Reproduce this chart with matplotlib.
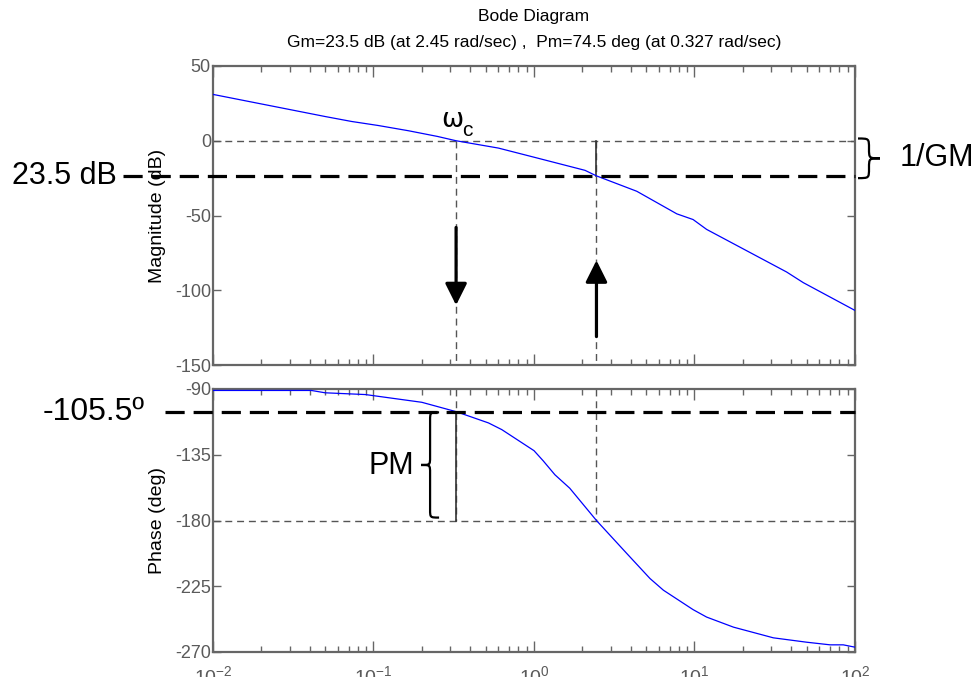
import matplotlib
matplotlib.use("Agg")
import matplotlib.pyplot as plt
import numpy as np
from matplotlib import font_manager
from matplotlib.path import Path
from matplotlib.patches import PathPatch
from matplotlib.ticker import LogLocator, NullFormatter, FixedLocator

# values
freq_mag = [0.01, 0.05, 0.073, 0.107, 0.165, 0.25, 0.327, 0.6, 1.0, 2.08, 2.45,
            4.37, 7.76, 9.8, 11.9, 37.5, 47.6, 100.0]
mag_db = [31.0, 16.2, 12.9, 10.2, 6.7, 2.9, 0.0, -4.9, -11.0, -19.8, -23.5,
          -33.8, -48.9, -52.7, -59.3, -87.8, -94.9, -113.5]

freq_ph = [0.01, 0.041, 0.05, 0.089, 0.2, 0.327, 0.52, 0.63, 1.0, 1.14, 1.35,
           1.67, 2.45, 3.78, 5.28, 6.4, 9.8, 11.9, 17.5, 31.0, 50.0, 70.0, 84.5, 100.0]
phase_deg = [-91.0, -91.0, -92.6, -93.8, -99.1, -105.5, -113.2, -117.8, -132.2, -139.1,
             -148.7, -157.9, -180.0, -202.5, -219.7, -227.7, -241.0, -246.1, -253.0,
             -260.3, -263.3, -265.1, -265.1, -266.7]

w_gc = 0.327      # gain crossover (rad/sec)
w_pc = 2.45       # phase crossover (rad/sec)
gm_db = 23.5
pm_deg = 74.5
ph_at_gc = -180 + pm_deg

mag_yticks = [-150, -100, -50, 0, 50]
ph_yticks = [-270, -225, -180, -135, -90]
x_ticks = [1e-2, 1e-1, 1e0, 1e1, 1e2]
x_ticklabels = [r"$10^{-2}$", r"$10^{-1}$", r"$10^{0}$", r"$10^{1}$", r"$10^{2}$"]

names = {f.name for f in font_manager.fontManager.ttflist}
narrow = "Liberation Sans Narrow" if "Liberation Sans Narrow" in names else "Liberation Sans"
plt.rcParams["font.family"] = ["Liberation Sans", "DejaVu Sans"]
plt.rcParams["axes.unicode_minus"] = False
plt.rcParams["mathtext.fontset"] = "custom"
plt.rcParams["mathtext.rm"] = narrow
plt.rcParams["mathtext.it"] = narrow
plt.rcParams["mathtext.bf"] = narrow

GRAY = "#666666"
TXT = "#5a5a5a"
small = 14 if narrow != "Liberation Sans" else 12.5

fig = plt.figure(figsize=(9.79, 6.77), dpi=100)
ax1 = fig.add_axes([213 / 979, 1 - 365 / 677, 642 / 979, 299 / 677])
ax2 = fig.add_axes([213 / 979, 1 - 652 / 677, 642 / 979, 263 / 677])

ax1.semilogx(freq_mag, mag_db, color="blue", lw=0.9, zorder=3)
ax2.semilogx(freq_ph, phase_deg, color="blue", lw=0.9, zorder=3)

ax1.set_ylim(-150, 50)
ax2.set_ylim(-270, -90)
ax1.set_yticks(mag_yticks)
ax2.set_yticks(ph_yticks)

for ax in (ax1, ax2):
    ax.set_xlim(1e-2, 1e2)
    ax.xaxis.set_major_locator(FixedLocator(x_ticks))
    ax.xaxis.set_minor_locator(LogLocator(base=10, subs=np.arange(2, 10)))
    ax.xaxis.set_minor_formatter(NullFormatter())
    for s in ax.spines.values():
        s.set_color(GRAY)
        s.set_linewidth(1.6)
    ax.tick_params(which="both", direction="in", top=True, right=True,
                   color=GRAY, labelcolor=TXT, width=1.0)
    ax.tick_params(axis="x", which="major", length=8)
    ax.tick_params(axis="x", which="minor", length=4.5)
    ax.tick_params(axis="y", which="major", length=6, pad=1.5)
    for lab in ax.get_yticklabels():
        lab.set_family(narrow)
        lab.set_fontsize(small + 0.5)

ax1.set_xticklabels([])
ax2.set_xticklabels(x_ticklabels, fontsize=small + 1.5)
ax2.tick_params(axis="x", which="major", pad=9.5)

ax1.set_ylabel("Magnitude (dB)", fontsize=14)
ax2.set_ylabel("Phase (deg)", fontsize=14)
ax1.yaxis.set_label_coords(-0.073, 0.5)
ax2.yaxis.set_label_coords(-0.073, 0.5)

fig.text(534 / 979, 1 - 17 / 677, "Bode Diagram", ha="center", va="center",
         fontsize=small, family=narrow)
fig.text(534 / 979, 1 - 42 / 677,
         "Gm=23.5 dB (at 2.45 rad/sec) ,  Pm=74.5 deg (at 0.327 rad/sec)",
         ha="center", va="center", fontsize=small, family=narrow)

thin = dict(color="#555555", lw=1.0, dashes=(5, 3.5), zorder=2)
# reference dashed lines
ax1.axhline(0, **thin)
ax2.axhline(-180, **thin)
ax1.plot([w_gc, w_gc], [0, -150], **thin)
ax1.plot([w_pc, w_pc], [0, -150], **thin)
ax2.plot([w_gc, w_gc], [-90, -180], **thin)
ax2.plot([w_pc, w_pc], [-90, -180], **thin)
ax1.plot([w_pc, w_pc], [0, -gm_db], color="#333333", lw=1.2, zorder=2)
ax2.plot([w_gc, w_gc], [ph_at_gc, -180], color="#333333", lw=1.2, zorder=2)

thick = dict(color="black", lw=2.3, dashes=(6, 2.8), clip_on=False, zorder=4)
ax1.axhline(-gm_db, xmin=-0.14, xmax=1.0, **thick)
ax2.axhline(ph_at_gc, xmin=-0.075, xmax=1.0, **thick)

# arrows
arr = dict(arrowstyle="-|>,head_length=0.6,head_width=0.3", color="black",
           lw=2.3, mutation_scale=22, shrinkA=0, shrinkB=0)
ax1.annotate("", xy=(w_gc, -110), xytext=(w_gc, -58), arrowprops=arr)
ax1.annotate("", xy=(w_pc, -80), xytext=(w_pc, -131), arrowprops=arr)

big = 22
ax1.annotate("23.5 dB", xy=(0, -gm_db), xycoords=("axes fraction", "data"),
             xytext=(-96 * 0.72, 0), textcoords="offset points",
             ha="right", va="center", fontsize=big)
ax2.annotate("-105.5º", xy=(0, ph_at_gc), xycoords=("axes fraction", "data"),
             xytext=(-68 * 0.72, 0), textcoords="offset points",
             ha="right", va="center", fontsize=big + 1)
ax1.annotate("1/GM", xy=(1, -gm_db / 2), xycoords=("axes fraction", "data"),
             xytext=(45 * 0.72, 0), textcoords="offset points",
             ha="left", va="center", fontsize=big)
ax2.annotate("PM", xy=(w_gc, (ph_at_gc - 180) / 2), xytext=(-42 * 0.72, 0),
             textcoords="offset points", ha="right", va="center", fontsize=big)
ax1.annotate("ω", xy=(w_gc, 0), xytext=(-4 * 0.72, 14 * 0.72),
             textcoords="offset points", ha="center", va="baseline",
             fontsize=19, family="DejaVu Sans")
ax1.annotate("c", xy=(w_gc, 0), xytext=(6 * 0.72, 5 * 0.72),
             textcoords="offset points", ha="left", va="baseline", fontsize=15)


def brace(ax, xd, y_top, y_bot, dx0, w, lw=1.6):
    # curly brace drawn in display pixels; dx0 offset of arms, w signed width
    xt, yt = ax.transData.transform((xd, y_top))
    _, yb = ax.transData.transform((xd, y_bot))
    X = xt + dx0
    ym = (yt + yb) / 2
    h = w / 2
    q = abs(w) * 0.45
    verts = [(X, yt), (X + h, yt), (X + h, yt), (X + h, yt - q),
             (X + h, ym + q),
             (X + h, ym), (X + h, ym), (X + w, ym),
             (X + h, ym), (X + h, ym), (X + h, ym - q),
             (X + h, yb + q),
             (X + h, yb), (X + h, yb), (X, yb)]
    codes = [Path.MOVETO, Path.CURVE4, Path.CURVE4, Path.CURVE4,
             Path.LINETO,
             Path.CURVE4, Path.CURVE4, Path.CURVE4,
             Path.CURVE4, Path.CURVE4, Path.CURVE4,
             Path.LINETO,
             Path.CURVE4, Path.CURVE4, Path.CURVE4]
    p = PathPatch(Path(verts, codes), transform=None, fill=False,
                  lw=lw, color="black", clip_on=False, zorder=5)
    fig.add_artist(p)


brace(ax1, 1e2, 1.5, -gm_db - 1.5, 3, 22)
brace(ax2, w_gc, ph_at_gc - 0.5, -178, -17, -18)

fig.savefig("out.png", dpi=100)
